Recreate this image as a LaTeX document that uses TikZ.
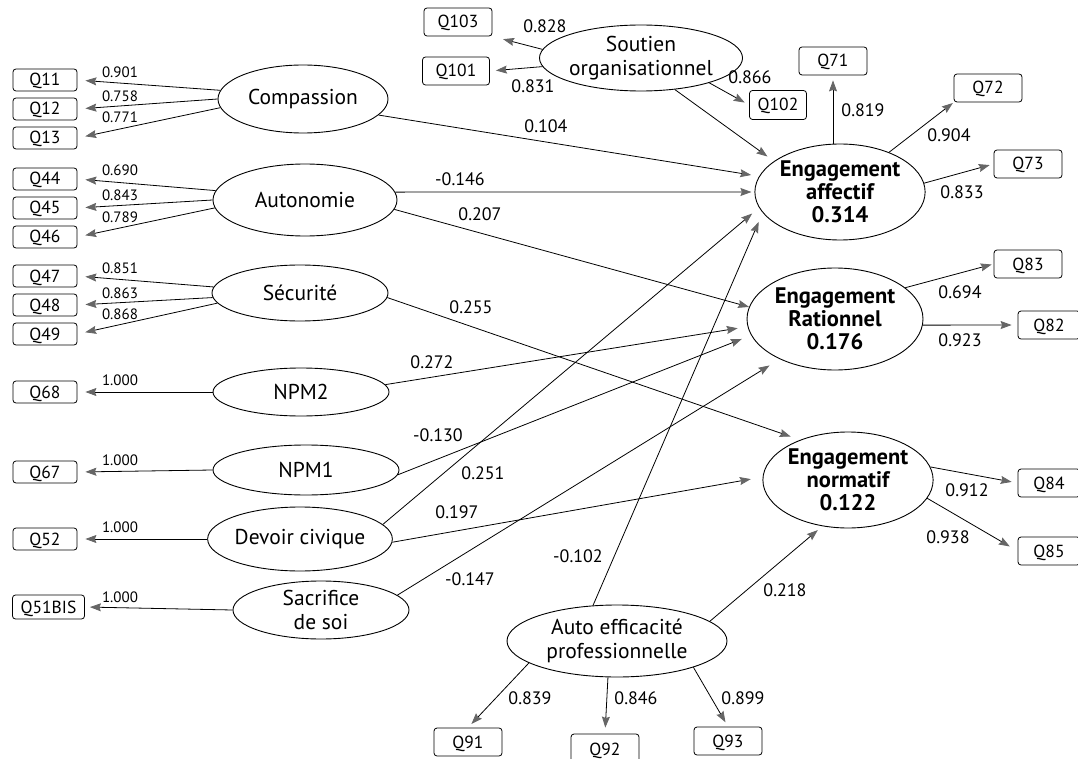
\documentclass[tikz,border=0pt]{standalone}
\usepackage{fontspec}
\setmainfont{PT Sans}
\usetikzlibrary{arrows.meta,shapes.geometric}
\begin{document}
\begin{tikzpicture}[x=1pt,y=-1pt,
 lat/.style={ellipse,draw,line width=0.9pt,inner sep=0pt,align=center,font=\fontsize{21.5}{24}\selectfont},
 eng/.style={lat,font=\bfseries\fontsize{22.5}{23}\selectfont},
 obs/.style={draw,rounded corners=3pt,line width=0.8pt,inner sep=0pt,text height=12pt,text depth=0pt,font=\fontsize{17.5}{18}\selectfont},
 arr/.style={line width=0.8pt,-{Stealth[length=11pt,width=8pt,inset=1.5pt,color=black!60]}},
 coef/.style={font=\fontsize{18}{19}\selectfont,inner sep=0pt},
 ld/.style={font=\fontsize{15}{16}\selectfont,inner sep=0pt}
]
\useasboundingbox (0,0) rectangle (1078,759);
% latent variables
\node[lat,minimum width=170,minimum height=68] (comp) at (303,99) {Compassion};
\node[lat,minimum width=184,minimum height=72] (auto) at (305,200) {Autonomie};
\node[lat,minimum width=176,minimum height=56] (secu) at (300,293) {Sécurité};
\node[lat,minimum width=176,minimum height=48] (npm2) at (301,392) {NPM2};
\node[lat,minimum width=186,minimum height=50] (npm1) at (306,470) {NPM1};
\node[lat,minimum width=176,minimum height=64] (devoir) at (300,539) {Devoir civique};
\node[lat,minimum width=176,minimum height=58] (sacr) at (321,610) {Sacrifice\\de soi};
\node[lat,minimum width=174,minimum height=66] (sout) at (641,58) {Soutien\\organisationnel};
\node[lat,minimum width=220,minimum height=72] (aep) at (617,641) {Auto efficacité\\professionnelle};
\node[eng,minimum width=168,minimum height=96] (ea) at (840,192) {Engagement\\affectif\\0.314};
\node[eng,minimum width=176,minimum height=102] (er) at (835,319) {Engagement\\Rationnel\\0.176};
\node[eng,minimum width=168,minimum height=96] (en) at (848,480) {Engagement\\normatif\\0.122};
% observed variables
\begin{scope}[every node/.style={obs,minimum width=64,minimum height=22}]
\node (q11) at (45,80) {Q11};
\node (q12) at (45,109) {Q12};
\node (q13) at (45,138) {Q13};
\node (q44) at (45,179) {Q44};
\node (q45) at (45,208) {Q45};
\node (q46) at (45,237) {Q46};
\node (q47) at (45,276) {Q47};
\node (q48) at (45,305) {Q48};
\node (q49) at (45,334) {Q49};
\node (q68) at (45,392) {Q68};
\node (q67) at (45,472) {Q67};
\node (q52) at (45,539) {Q52};
\node[minimum width=72,minimum height=24] (q51) at (48.5,607) {Q51BIS};
\end{scope}
\begin{scope}[every node/.style={obs,minimum width=68,minimum height=28}]
\node (q103) at (458,22) {Q103};
\node[minimum width=67] (q101) at (456,71) {Q101};
\node[minimum width=57,minimum height=29] (q102) at (778,105) {Q102};
\node (q71) at (833,61) {Q71};
\node (q72) at (988,88) {Q72};
\node (q73) at (1028,164) {Q73};
\node (q83) at (1028,264) {Q83};
\node[minimum width=62] (q82) at (1049,325) {Q82};
\node[minimum width=62] (q84) at (1049,483) {Q84};
\node[minimum width=62] (q85) at (1049,551) {Q85};
\node (q91) at (468,742) {Q91};
\node[minimum height=30] (q92) at (605,749) {Q92};
\node (q93) at (728,741) {Q93};
\end{scope}
% left loadings
\draw[arr,shorten >=8pt] (comp.174) -- (q11.east);
\draw[arr,shorten >=8pt] (comp.180) -- (q12.east);
\draw[arr,shorten >=8pt] (comp.186) -- (q13.east);
\draw[arr,shorten >=8pt] (auto.174) -- (q44.east);
\draw[arr,shorten >=8pt] (auto.180) -- (q45.east);
\draw[arr,shorten >=8pt] (auto.185) -- (q46.east);
\draw[arr,shorten >=8pt] (secu.176) -- (q47.east);
\draw[arr,shorten >=8pt] (secu.183) -- (q48.east);
\draw[arr,shorten >=8pt] (secu.187) -- (q49.east);
\draw[arr,shorten >=8pt] (npm2.west) -- (q68.east);
\draw[arr,shorten >=8pt] (npm1.west) -- (q67.east);
\draw[arr,shorten >=8pt] (devoir.west) -- (q52.east);
\draw[arr,shorten >=5pt] (sacr.west) -- (q51.east);
\node[ld] (l11) at (120,72) {0.901};
\node[ld] (l12) at (120,96) {0.758};
\node[ld] (l13) at (120,117) {0.771};
\node[ld] (l44) at (120,170) {0.690};
\node[ld] (l45) at (120,195) {0.843};
\node[ld] (l46) at (120,217) {0.789};
\node[ld] (l47) at (120,268) {0.851};
\node[ld] (l48) at (120,293) {0.863};
\node[ld] (l49) at (120,314) {0.868};
\node[ld] (l68) at (120,380) {1.000};
\node[ld] (l67) at (120,460) {1.000};
\node[ld] (l52) at (120,527) {1.000};
\node[ld] (l51) at (120,597) {1.000};
% structural paths
\draw[arr,shorten >=8pt] (comp.348) -- (ea.169);
\draw[arr,shorten >=3pt] (auto.5) -- (ea.180);
\draw[arr] (auto.354) -- (er.172);
\draw[arr,shorten >=10pt] (secu.357) -- (en.140);
\draw[arr,shorten >=10pt] (npm2.5) -- (er.185);
\draw[arr,shorten >=10pt] (npm1.357) -- (er.191);
\draw[arr,shorten >=9pt] (devoir.10) -- (ea.191);
\draw[arr,shorten >=12pt] (devoir.358) -- (en.178);
\draw[arr,shorten >=12pt] (sacr.11) -- (er.216);
\draw[arr,shorten >=10pt] (aep.124) -- (ea.195);
\draw[arr,shorten >=6pt] (aep.12) -- (en.241);
\draw[arr,shorten >=8pt] (sout.317) -- (ea.155);
\node[coef] (c1) at (546,126) {0.104};
\node[coef] (c2) at (460,179) {-0.146};
\node[coef] (c3) at (480,214) {0.207};
\node[coef] (c4) at (471,307) {0.255};
\node[coef] (c5) at (432,362) {0.272};
\node[coef] (c6) at (438,435) {-0.130};
\node[coef] (c7) at (483,473) {0.251};
\node[coef] (c8) at (457,512) {0.197};
\node[coef] (c9) at (470,579) {-0.147};
\node[coef] (c10) at (578,556) {-0.102};
\node[coef] (c11) at (785,590) {0.218};
% other loadings
\draw[arr,shorten >=11pt] (sout.175) -- (q103.south east);
\draw[arr,shorten >=6pt] (sout.185) -- (q101.east);
\draw[arr,shorten >=5pt] (sout.340) -- (q102.west);
\draw[arr,shorten >=5pt] (ea.north -| q71) -- (q71.south);
\draw[arr,shorten >=1pt] (ea.39) -- (q72.south west);
\draw[arr,shorten >=4pt] (ea.6) -- (q73.west);
\draw[arr,shorten >=2pt] (er.24) -- (q83.west);
\draw[arr,shorten >=6pt] (er.356) -- (q82.west);
\draw[arr,shorten >=6pt] (en.9) -- (q84.west);
\draw[arr,shorten >=9pt] (en.347) -- (q85.west);
\draw[arr,shorten >=5pt] (aep.194) -- (q91.north);
\draw[arr,shorten >=6pt] (aep.256) -- (q92.north);
\draw[arr,shorten >=5pt] (aep.341) -- (q93.north);
\node[coef] (d1) at (545,26) {0.828};
\node[coef] (d2) at (533,86) {0.831};
\node[coef] (d3) at (750,77) {0.866};
\node[coef] (d4) at (863,110) {0.819};
\node[coef] (d5) at (949,135) {0.904};
\node[coef] (d6) at (962,192) {0.833};
\node[coef] (d7) at (960,292) {0.694};
\node[coef] (d8) at (960,340) {0.923};
\node[coef] (d9) at (967,490) {0.912};
\node[coef] (d10) at (948,537) {0.938};
\node[coef] (d11) at (530,698) {0.839};
\node[coef] (d12) at (636,698) {0.846};
\node[coef] (d13) at (743,698) {0.899};
\end{tikzpicture}
\end{document}
